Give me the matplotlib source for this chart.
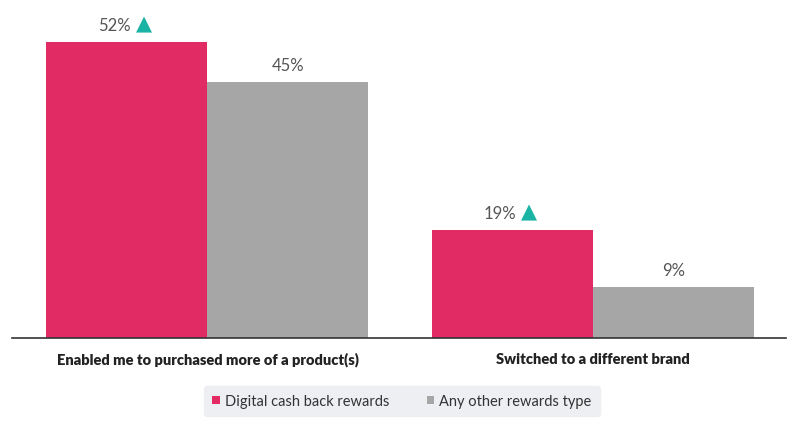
import matplotlib.pyplot as plt
import numpy as np

categories = ['Enabled me to purchased more of a product(s)', 'Switched to a different brand']
series = ['Digital cash back rewards', 'Any other rewards type']
digital = [52, 19]
other = [45, 9]
significant = [True, True]  # teal up-arrow next to digital values

pink = '#E02B65'
grey = '#A6A6A6'
teal = '#1BB3A4'

plt.rcParams['font.family'] = ['Lato', 'DejaVu Sans']

fig = plt.figure(figsize=(8, 4.31), dpi=100)
ax = fig.add_axes([12/800, 92/431, 774/800, 330/431])

x = np.arange(len(categories))
w = 0.4176
b1 = ax.bar(x - w/2, digital, w, color=pink, label=series[0])
b2 = ax.bar(x + w/2, other, w, color=grey, label=series[1])

for rect, v, sig in zip(b1, digital, significant):
    cx = rect.get_x() + rect.get_width()/2
    ax.annotate(f'{v}%', (cx, v), xytext=(-9, 6.5), textcoords='offset points',
                ha='center', va='bottom', fontsize=12, color='#555555')
    if sig:
        ax.annotate('▲', (cx, v), xytext=(12, 6), textcoords='offset points',
                    ha='center', va='bottom', fontsize=15, color=teal,
                    family='DejaVu Sans')
for rect, v in zip(b2, other):
    cx = rect.get_x() + rect.get_width()/2
    ax.annotate(f'{v}%', (cx, v), xytext=(0, 6.5), textcoords='offset points',
                ha='center', va='bottom', fontsize=12, color='#555555')

ax.set_xlim(-0.507, 1.5007)
ax.set_ylim(0, 58)
ax.set_yticks([])
ax.set_xticks(x)
ax.set_xticklabels(categories, fontsize=10.5, fontweight='heavy', color='#222222')
ax.tick_params(axis='x', length=0, pad=10)
for s in ['top', 'right', 'left']:
    ax.spines[s].set_visible(False)
ax.spines['bottom'].set_color('#333333')
ax.spines['bottom'].set_linewidth(1.2)

leg = fig.legend(handles=[b1, b2], loc='center', bbox_to_anchor=(402/800, 1 - 402/431),
                 ncol=2, frameon=True, fontsize=10.5, handlelength=0.5, handleheight=0.5,
                 handletextpad=0.35, columnspacing=2.6, borderpad=0.55, borderaxespad=0,
                 fancybox=True)
leg.get_frame().set_facecolor('#EEEFF3')
leg.get_frame().set_edgecolor('#EEEFF3')
leg.get_frame().set_alpha(1)
for t in leg.get_texts():
    t.set_color('#333333')

fig.savefig('out.png', dpi=100)
